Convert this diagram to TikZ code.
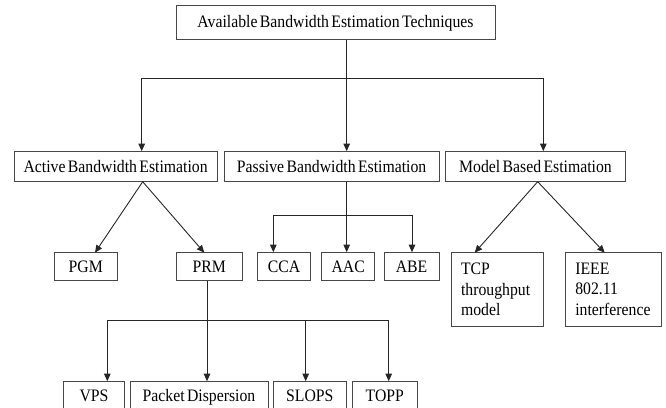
\documentclass[tikz,border=0pt]{standalone}
\usepackage{fontspec}
\setmainfont{Liberation Serif}[FakeStretch=0.9,WordSpace=0.6]
\usetikzlibrary{arrows.meta}
\begin{document}
\begin{tikzpicture}[x=1pt,y=-1pt,
  box/.style={draw=black!72,line width=1pt,rectangle,inner sep=0pt,
    font=\fontsize{17.5}{20.3}\selectfont,text height=13pt,text depth=2pt},
  mbox/.style={draw=black!72,line width=1pt,rectangle,inner xsep=10pt,inner ysep=0pt,
    font=\fontsize{17.5}{20.3}\selectfont,align=left},
  ln/.style={draw=black!85,line width=0.9pt},
  arr/.style={ln,-{Triangle[length=7.5pt,width=6.5pt]}}]
\useasboundingbox (0,0) rectangle (666,407);
\clip (0,0) rectangle (666,407);
% level 0
\node[box,minimum width=319pt,minimum height=34.3pt] (top) at (335.5,22.15) {Available Bandwidth Estimation Techniques};
% level 1
\node[box,minimum width=202.7pt,minimum height=30pt] (active) at (115.65,166.7) {Active Bandwidth Estimation};
\node[box,minimum width=214.7pt,minimum height=30pt] (passive) at (331.65,166.7) {Passive Bandwidth Estimation};
\node[box,minimum width=179.6pt,minimum height=30pt] (model) at (535.5,166.7) {Model Based Estimation};
% level 2
\node[box,minimum width=63pt,minimum height=28pt] (pgm) at (85.8,266.7) {PGM};
\node[box,minimum width=66.3pt,minimum height=28pt] (prm) at (209.15,266.7) {PRM};
\node[box,minimum width=53.4pt,minimum height=28pt] (cca) at (284,266.7) {CCA};
\node[box,minimum width=53pt,minimum height=28pt] (aac) at (348.2,266.7) {AAC};
\node[box,minimum width=55pt,minimum height=28pt] (abe) at (411.5,266.7) {ABE};
\node[mbox,minimum width=92.3pt,minimum height=73.3pt,text width=72.3pt] (tcp) at (497.15,289.35) {TCP\\throughput\\model};
\node[mbox,minimum width=96pt,minimum height=73.3pt,text width=76pt] (ieee) at (613.3,289.35) {IEEE\\802.11\\interference};
% level 3
\node[box,minimum width=61.4pt,minimum height=28pt] (vps) at (94,395.7) {VPS};
\node[box,minimum width=138pt,minimum height=28pt] (pd) at (199,395.7) {Packet Dispersion};
\node[box,minimum width=73pt,minimum height=28pt] (slops) at (309.8,395.7) {SLOPS};
\node[box,minimum width=65pt,minimum height=28pt] (topp) at (384.8,395.7) {TOPP};
% connectors level 0 -> 1
\coordinate (j0) at (346.7,78);
\coordinate (jA) at (141.7,78);
\coordinate (jM) at (543.3,78);
\draw[ln] (top.south -| j0) -- (j0);
\draw[ln] (jA) -- (jM);
\draw[arr] (jA) -- (jA |- active.north);
\draw[arr] (j0) -- (j0 |- passive.north);
\draw[arr] (jM) -- (jM |- model.north);
% active
\coordinate (aS) at (142.7,181.7);
\draw[arr] (aS) -- (95,252.7);
\draw[arr] (aS) -- (204.3,252.7);
% passive
\coordinate (pS) at (346.7,181.7);
\coordinate (pL) at (273.3,215);
\coordinate (pR) at (412,215);
\draw[arr] (pS) -- (pS |- aac.north);
\draw[ln] (pL) -- (pR);
\draw[arr] (pL) -- (pL |- cca.north);
\draw[arr] (pR) -- (pR |- abe.north);
% model
\coordinate (mS) at (537.7,181.7);
\draw[arr] (mS) -- (474.7,252.7);
\draw[arr] (mS) -- (604.7,252.7);
% prm
\coordinate (rS) at (207,280.7);
\coordinate (rL) at (107.3,320.7);
\coordinate (rR) at (388.7,320.7);
\coordinate (rM) at (305.7,320.7);
\draw[arr] (rS) -- (rS |- pd.north);
\draw[ln] (rL) -- (rR);
\draw[arr] (rL) -- (rL |- vps.north);
\draw[arr] (rM) -- (rM |- slops.north);
\draw[arr] (rR) -- (rR |- topp.north);
\end{tikzpicture}
\end{document}
